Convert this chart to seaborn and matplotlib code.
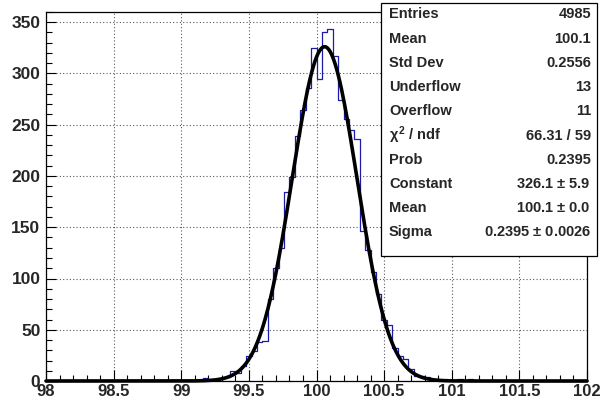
import numpy as np
import pandas as pd
import matplotlib
matplotlib.use("Agg")
import matplotlib.pyplot as plt
from matplotlib.patches import Rectangle
from matplotlib.ticker import MultipleLocator
import seaborn as sns


# histogram: 100 bins from 98 to 102 (counts)
x_min, x_max, n_bins = 98, 102, 100
bin_counts = [
    0, 0, 0, 0, 0, 0, 0, 0, 0, 0,
    0, 0, 0, 0, 0, 0, 0, 0, 0, 0,
    0, 0, 0, 0, 0, 0, 0, 0, 0, 3,
    1, 2, 3, 4, 10, 8, 15, 24, 29, 38,
    39, 80, 110, 130, 184, 199, 239, 264, 286, 325,
    295, 340, 343, 317, 274, 256, 245, 236, 146, 128,
    106, 85, 60, 55, 32, 24, 21, 12, 5, 5,
    4, 1, 0, 0, 0, 0, 2, 0, 2, 0,
    0, 0, 1, 0, 0, 0, 0, 0, 0, 0,
    0, 0, 0, 0, 0, 0, 0, 0, 0, 0,
]

# gaus fit parameters
fit_constant = 326.1
fit_mean = 100.06
fit_sigma = 0.2395

stat_labels = ["Entries", "Mean", "Std Dev", "Underflow", "Overflow",
               r"$\chi^{2}$ / ndf", "Prob", "Constant", "Mean", "Sigma"]
stat_values = ["4985", "100.1", "0.2556", "13", "11", "66.31 / 59", "0.2395",
               "326.1 $\\pm$ 5.9", "100.1 $\\pm$ 0.0", "0.2395 $\\pm$ 0.0026"]

sns.set_style("ticks")
plt.rcParams['font.family'] = ['Liberation Sans', 'DejaVu Sans']
plt.rcParams['mathtext.fontset'] = 'custom'
plt.rcParams['mathtext.rm'] = 'Liberation Sans:bold'
plt.rcParams['mathtext.it'] = 'Liberation Sans:bold'

fig = plt.figure(figsize=(6, 4), dpi=100)
ax = fig.add_axes([46 / 600, 19 / 400, 541 / 600, 369 / 400])

bw = (x_max - x_min) / n_bins
df = pd.DataFrame({"x": x_min + bw * (np.arange(n_bins) + 0.5),
                   "n": bin_counts})
sns.histplot(data=df, x="x", weights="n", bins=n_bins, binrange=(x_min, x_max),
             element="step", fill=False, color="#1c1ca8", linewidth=0.9, ax=ax)

xs = np.linspace(x_min, x_max, 801)
ys = fit_constant * np.exp(-0.5 * ((xs - fit_mean) / fit_sigma) ** 2)
sns.lineplot(x=xs, y=ys, color="black", linewidth=2.6, ax=ax)
ax.lines[-1].set_clip_on(False)

ax.set_xlim(x_min, x_max)
ax.set_ylim(0, 360)
ax.set_xlabel("")
ax.set_ylabel("")

ax.xaxis.set_major_locator(MultipleLocator(0.5))
ax.xaxis.set_minor_locator(MultipleLocator(0.1))
ax.yaxis.set_major_locator(MultipleLocator(50))
ax.yaxis.set_minor_locator(MultipleLocator(10))
ax.xaxis.set_major_formatter(matplotlib.ticker.FuncFormatter(lambda v, p: f"{v:g}"))
ax.tick_params(which="both", direction="in", top=False, right=False,
               width=0.8, color="black")
ax.tick_params(axis="x", which="major", length=8, pad=2, labelsize=12)
ax.tick_params(axis="x", which="minor", length=4)
ax.tick_params(axis="y", which="major", length=7, pad=4, labelsize=12.5)
ax.tick_params(axis="y", which="minor", length=4)
for lab in ax.get_xticklabels() + ax.get_yticklabels():
    lab.set_fontweight("bold")

ax.grid(True, which="major", color="0.35", linestyle=(0, (1, 2)), linewidth=0.8)
for sp in ax.spines.values():
    sp.set_linewidth(0.9)
    sp.set_color("black")

# stats box
bx0, bx1 = 381 / 600, 597 / 600
by1, by0 = 1 - 3 / 400, 1 - 256 / 400
fig.patches.append(Rectangle((bx0, by0), bx1 - bx0, by1 - by0, transform=fig.transFigure,
                             facecolor="white", edgecolor="black", linewidth=0.9, zorder=5))
for i, (lab, val) in enumerate(zip(stat_labels, stat_values)):
    yy = 1 - (14.5 + 24.2 * i) / 400
    fig.text(389 / 600, yy, lab, ha="left", va="center", fontsize=10.5,
             fontweight="bold", zorder=6)
    fig.text(591 / 600, yy, val, ha="right", va="center", fontsize=10.5,
             fontweight="bold", zorder=6)

fig.savefig("out.png", dpi=100)
